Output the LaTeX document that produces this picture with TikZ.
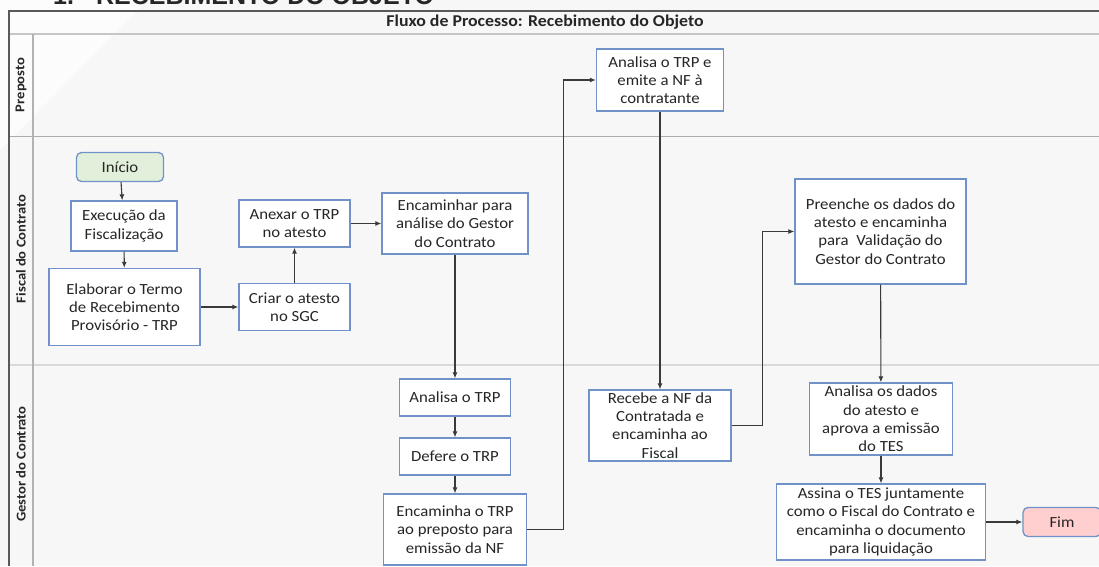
\documentclass[tikz,border=0pt]{standalone}
\usepackage{fontspec}
\setmainfont{Carlito}[FakeStretch=1.08]
\newfontfamily\headfont{Liberation Sans}
\usetikzlibrary{arrows.meta}

\definecolor{boxblue}{HTML}{7092C8}
\definecolor{linegray}{HTML}{3A3A3A}
\definecolor{startgreen}{HTML}{E2EFDA}
\definecolor{endpink}{HTML}{FFCFCF}
\definecolor{bggray}{HTML}{F7F7F7}
\definecolor{txt}{HTML}{262626}

\begin{document}
\begin{tikzpicture}[x=1pt,y=-1pt,
  proc/.style={draw=boxblue, line width=1.3pt, fill=white, align=center,
    inner sep=1pt, text=txt, font=\fontsize{15.5}{18.3}\selectfont},
  term/.style={proc, rounded corners=5pt},
  flow/.style={draw=linegray, line width=1.1pt, -{Latex[length=6pt,width=5pt]}},
  lane/.style={rotate=90, font=\bfseries\fontsize{13.5}{16}\selectfont, text=txt},
]
\useasboundingbox (0,0) rectangle (1099,566);
% background
\fill[bggray] (0,0) rectangle (1099,566);
\fill[white!60!bggray] (0,0) -- (148,0) -- (0,150) -- cycle;

% heading (cut off at top, as in the reference)
\node[anchor=base west, inner sep=0, text=txt,
  font=\headfont\bfseries\fontsize{25}{25}\selectfont] (head) at (53,4)
  {1.\hspace{22pt}RECEBIMENTO DO OBJETO};

% frame and lanes
\draw[gray!30, line width=1.5pt] (9,365) -- (1099,365);
\draw[gray!65, line width=1pt] (9,136) -- (1099,136);
\draw[gray!45, line width=1.3pt] (9,34) -- (1099,34);
\draw[gray!60, line width=1.2pt] (33,34) -- (33,566);
\draw[black!65, line width=1.4pt] (1099,11) -- (9,11) -- (9,566);

\node[font=\bfseries\fontsize{16.5}{18}\selectfont, text=txt] (title) at (545,22)
  {Fluxo de Processo: Recebimento do Objeto};
\node[lane] (lprep) at (21,85) {Preposto};
\node[lane] (lfisc) at (21,249) {Fiscal do Contrato};
\node[lane] (lgest) at (21,464) {Gestor do Contrato};

% nodes
\node[term, fill=startgreen, minimum width=87, minimum height=29] (inicio) at (120,167) {Início};
\node[proc, minimum width=106, minimum height=50] (exec) at (124,226) {Execução da\\Fiscalização};
\node[proc, minimum width=151, minimum height=77] (elab) at (124.5,307) {Elaborar o Termo\\de Recebimento\\Provisório - TRP};
\node[proc, minimum width=111, minimum height=47] (criar) at (294.5,307) {Criar o atesto\\no SGC};
\node[proc, minimum width=111, minimum height=47] (anexar) at (294.5,223.5) {Anexar o TRP\\no atesto};
\node[proc, minimum width=146, minimum height=61] (encam) at (455,223.5) {Encaminhar para\\análise do Gestor\\do Contrato};
\node[proc, minimum width=127, minimum height=62] (nf) at (660,80) {Analisa o TRP e\\emite a NF à\\contratante};
\node[proc, minimum width=171, minimum height=105] (preen) at (880.5,231.5) {Preenche os dados do\\atesto e encaminha\\para\ \ Validação do\\Gestor do Contrato};
\node[proc, minimum width=111, minimum height=37] (ana1) at (455,397.5) {Analisa o TRP};
\node[proc, minimum width=111, minimum height=37] (def) at (455,456.5) {Defere o TRP};
\node[proc, minimum width=143, minimum height=71] (enc2) at (455,529.5) {Encaminha o TRP\\ao preposto para\\emissão da NF};
\node[proc, minimum width=142, minimum height=71] (receb) at (660,425.5) {Recebe a NF da\\Contratada e\\encaminha ao\\Fiscal};
\node[proc, minimum width=143, minimum height=72] (ana2) at (881,419) {Analisa os dados\\do atesto e\\aprova a emissão\\do TES};
\node[proc, minimum width=209, minimum height=76] (assina) at (881,522) {Assina o TES juntamente\\como o Fiscal do Contrato e\\encaminha o documento\\para liquidação};
\node[term, fill=endpink, minimum width=78, minimum height=29] (fim) at (1062,522) {Fim};

% connectors
\draw[flow] (inicio) -- (exec);
\draw[flow] (exec) -- (elab);
\draw[flow] (elab) -- (criar);
\draw[flow] (criar) -- (anexar);
\draw[flow] (anexar) -- (encam);
\draw[flow] (encam) -- (ana1);
\draw[flow] (ana1) -- (def);
\draw[flow] (def) -- (enc2);
\draw[flow] (enc2.east) -- ++(36,0) |- (nf.west);
\draw[flow] (nf) -- (receb);
\draw[flow] (receb.east) -- ++(31,0) |- (preen.west);
\draw[flow] (preen) -- (ana2);
\draw[flow] (ana2) -- (assina);
\draw[flow] (assina) -- (fim);
\end{tikzpicture}
\end{document}
